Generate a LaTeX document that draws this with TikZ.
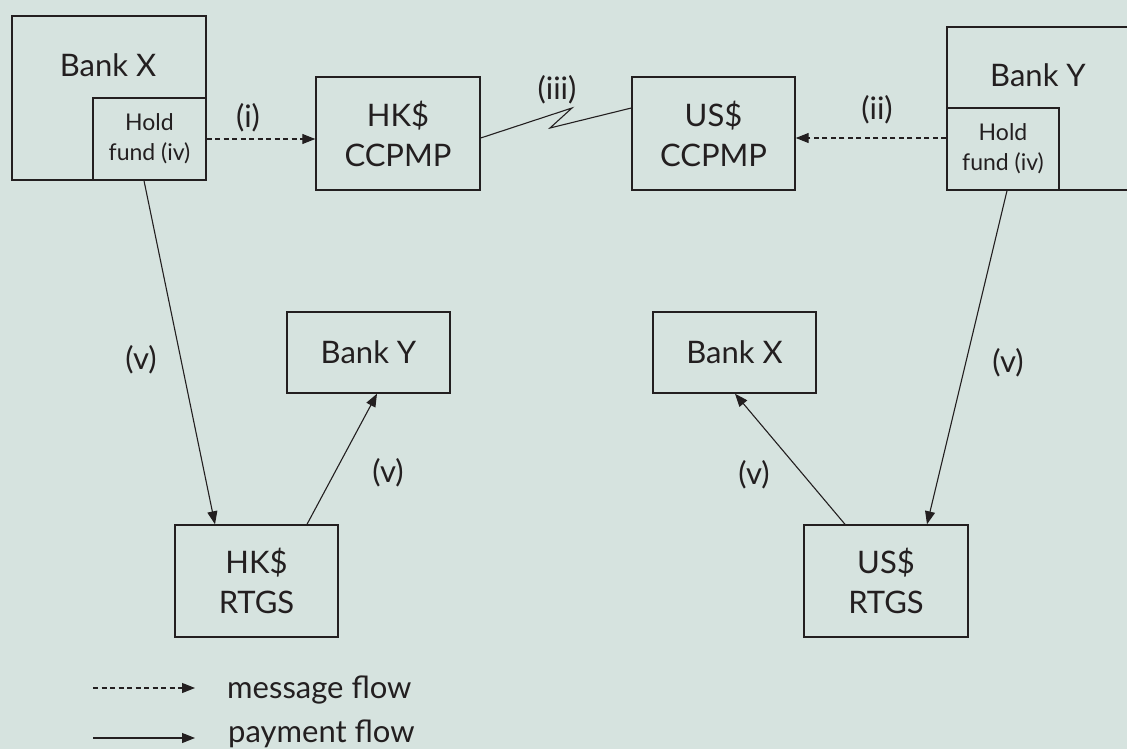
\documentclass[tikz,border=0pt]{standalone}
\usepackage{fontspec}
\setmainfont{Lato}
\usetikzlibrary{arrows.meta,calc}
\definecolor{bg}{HTML}{D6E3DF}
\definecolor{ink}{HTML}{231F20}
\newcommand{\bigtxt}{\fontsize{31}{40}\selectfont}
\newcommand{\smalltxt}{\fontsize{23}{30}\selectfont}
\begin{document}
\begin{tikzpicture}[x=1pt,y=-1pt,
  box/.style={draw=ink,line width=1.4pt,rectangle,inner sep=0pt,align=center,text=ink,font=\bigtxt},
  lbl/.style={text=ink,font=\bigtxt,inner sep=0pt},
  pay/.style={draw=ink,line width=1.1pt,-{Triangle[length=13pt,width=10pt]}},
  msg/.style={draw=ink,line width=1.1pt,dash pattern=on 5pt off 3.5pt,-{Triangle[length=13pt,width=10pt]}},
  zig/.style={draw=ink,line width=1.1pt}
]
\fill[bg] (0,0) rectangle (1127,749);
\useasboundingbox (0,0) rectangle (1127,749);
\clip (0,0) rectangle (1127,749);

% top row
\node[box,minimum width=194pt,minimum height=164pt] (bankX) at (109,98) {};
\node[lbl] (bankXt) at (108,65) {Bank X};
\node[box,font=\smalltxt,minimum width=113pt,minimum height=82pt] (holdX) at (149.5,139) {Hold\\fund (iv)};

\node[box,minimum width=193pt,minimum height=163pt] (bankY) at (1043.5,108.5) {};
\node[lbl] (bankYt) at (1038,75) {Bank Y};
\node[box,font=\smalltxt,minimum width=112pt,minimum height=82pt] (holdY) at (1003,149) {Hold\\fund (iv)};

\node[box,minimum width=164pt,minimum height=113pt] (hkC) at (398,133.5) {HK\$\\CCPMP};
\node[box,minimum width=163pt,minimum height=113pt] (usC) at (713.5,133.5) {US\$\\CCPMP};

% lower boxes
\node[box,minimum width=163pt,minimum height=81pt] (bankY2) at (368.5,352.5) {Bank Y};
\node[box,minimum width=163pt,minimum height=81pt] (bankX2) at (734.5,352.5) {Bank X};
\node[box,minimum width=163pt,minimum height=112pt] (hkR) at (256.5,581) {HK\$\\RTGS};
\node[box,minimum width=164pt,minimum height=112pt] (usR) at (886,581) {US\$\\RTGS};

% message flows
\draw[msg] (holdX.east) -- (holdX.east -| hkC.west);
\draw[msg] ([yshift=11pt]holdY.west) -- ([yshift=11pt]holdY.west -| usC.east);

% link between CCPMPs
\coordinate (z1) at (572,108);
\coordinate (z2) at (550,128);
\draw[zig] ([yshift=-4.5pt]hkC.east) -- (z1) -- (z2) -- ([yshift=25.5pt]usC.west);

% payment flows
\draw[pay] ([xshift=-5.5pt]holdX.south) -- ([xshift=-41.5pt]hkR.north);
\draw[pay] ([xshift=50.5pt]hkR.north) -- ([xshift=8.5pt]bankY2.south);
\draw[pay] ([xshift=4pt]holdY.south) -- ([xshift=41pt]usR.north);
\draw[pay] ([xshift=-41pt]usR.north) -- ([xshift=0.5pt]bankX2.south);

% labels
\node[lbl] (li) at (248,118) {(i)};
\node[lbl] (lii) at (877,110) {(ii)};
\node[lbl] (liii) at (557,90) {(iii)};
\node[lbl] (lv1) at (141,360) {(v)};
\node[lbl] (lv2) at (388,473) {(v)};
\node[lbl] (lv3) at (754,475) {(v)};
\node[lbl] (lv4) at (1008,363) {(v)};

% legend
\coordinate (m0) at (93,688);
\coordinate (m1) at (195,688);
\draw[msg] (m0) -- (m1);
\node[lbl,anchor=base west] (mt) at (227,698) {message flow};
\coordinate (p0) at (93,738);
\coordinate (p1) at (195,738);
\draw[pay] (p0) -- (p1);
\node[lbl,anchor=base west] (pt) at (228,742) {payment flow};
\end{tikzpicture}
\end{document}
